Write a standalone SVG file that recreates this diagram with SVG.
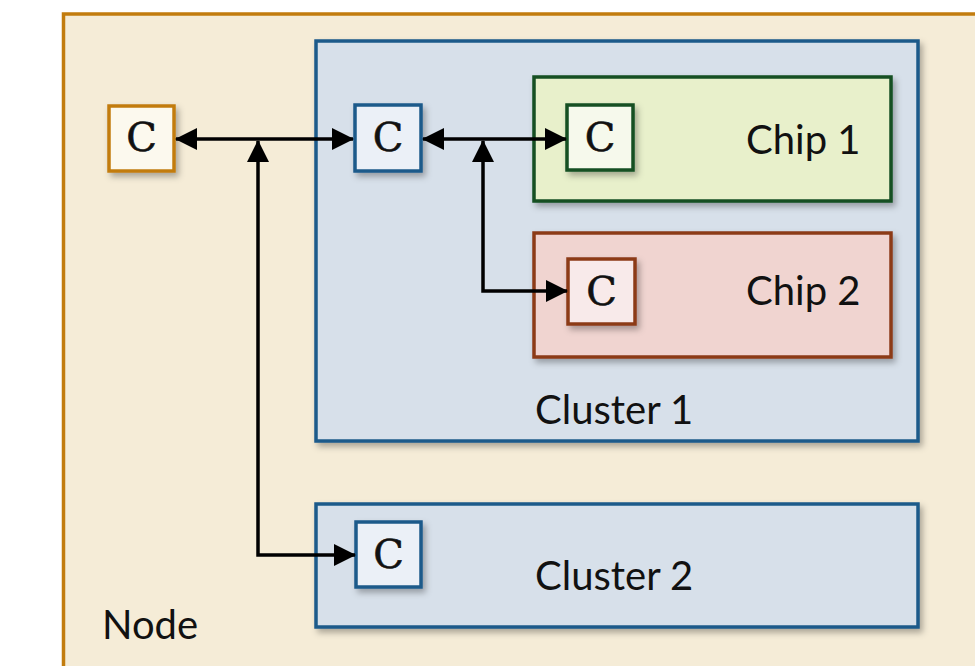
<svg xmlns="http://www.w3.org/2000/svg" width="975" height="666" viewBox="0 0 975 666">
  <defs>
    <filter id="shadow" x="-20%" y="-20%" width="140%" height="140%">
      <feDropShadow dx="3" dy="4" stdDeviation="3" flood-color="#000" flood-opacity="0.3"/>
    </filter>
    <marker id="arrow" viewBox="0 0 22 22" refX="21" refY="11" markerWidth="22" markerHeight="22" markerUnits="userSpaceOnUse" orient="auto-start-reverse">
      <path d="M0,0 L22,11 L0,22 Z" fill="#000"/>
    </marker>
  </defs>
  <style>
    .label { font-family: "Lato", "Open Sans", sans-serif; font-size: 40px; fill: #111; }
    .c { font-family: "DejaVu Serif", "Liberation Serif", serif; font-size: 40px; fill: #111; stroke: #111; stroke-width: 0.6; text-anchor: middle; }
    .wire { fill: none; stroke: #000; stroke-width: 3.5; }
    .orange { stroke: #c27c0e; stroke-width: 3.5; }
    .blue { stroke: #1d5a8a; stroke-width: 3.5; }
    .green { stroke: #144f24; stroke-width: 3.5; }
    .brown { stroke: #8c3a18; stroke-width: 3.5; }
  </style>

  <rect width="975" height="666" fill="#fff"/>

  <!-- Node container -->
  <g id="node">
    <rect x="63.5" y="14" width="940" height="700" fill="#f5ecd7" class="orange"/>
    <text class="label" x="102" y="639">Node</text>
  </g>

  <!-- Cluster 1 -->
  <g id="cluster1">
    <rect x="316" y="41" width="602" height="400" fill="#d7e0ea" class="blue" filter="url(#shadow)"/>
    <text class="label" x="535" y="424">Cluster 1</text>
  </g>

  <!-- Chip 1 -->
  <g id="chip1">
    <rect x="534" y="77" width="357" height="124" fill="#e8f0cb" class="green" filter="url(#shadow)"/>
    <text class="label" x="746" y="154">Chip 1</text>
  </g>

  <!-- Chip 2 -->
  <g id="chip2">
    <rect x="534" y="233" width="357" height="124" fill="#f0d4d0" class="brown" filter="url(#shadow)"/>
    <text class="label" x="746" y="305">Chip 2</text>
  </g>

  <!-- Cluster 2 -->
  <g id="cluster2">
    <rect x="316" y="504" width="602" height="123" fill="#d7e0ea" class="blue" filter="url(#shadow)"/>
    <text class="label" x="535" y="590">Cluster 2</text>
  </g>

  <!-- Controllers -->
  <g id="c-node">
    <rect x="109" y="106" width="65" height="65" fill="#fcf9ee" class="orange" filter="url(#shadow)"/>
    <text class="c" x="141.5" y="151">C</text>
  </g>
  <g id="c-cluster1">
    <rect x="355" y="105" width="66" height="66" fill="#ebf0f7" class="blue" filter="url(#shadow)"/>
    <text class="c" x="388" y="151">C</text>
  </g>
  <g id="c-chip1">
    <rect x="567" y="105" width="66" height="65" fill="#f6f9ec" class="green" filter="url(#shadow)"/>
    <text class="c" x="600" y="151">C</text>
  </g>
  <g id="c-chip2">
    <rect x="568" y="259" width="67" height="65" fill="#f8eaea" class="brown" filter="url(#shadow)"/>
    <text class="c" x="601.5" y="305">C</text>
  </g>
  <g id="c-cluster2">
    <rect x="356" y="522" width="65" height="65" fill="#ebf0f7" class="blue" filter="url(#shadow)"/>
    <text class="c" x="388.5" y="568">C</text>
  </g>

  <!-- Connectors -->
  <g id="connectors">
    <line class="wire" x1="176" y1="139" x2="353" y2="139" marker-start="url(#arrow)" marker-end="url(#arrow)"/>
    <polyline class="wire" points="355,555 258,555 258,141" marker-start="url(#arrow)" marker-end="url(#arrow)"/>
    <line class="wire" x1="423" y1="139" x2="566" y2="139" marker-start="url(#arrow)" marker-end="url(#arrow)"/>
    <polyline class="wire" points="567,291 483,291 483,141" marker-start="url(#arrow)" marker-end="url(#arrow)"/>
  </g>
</svg>
